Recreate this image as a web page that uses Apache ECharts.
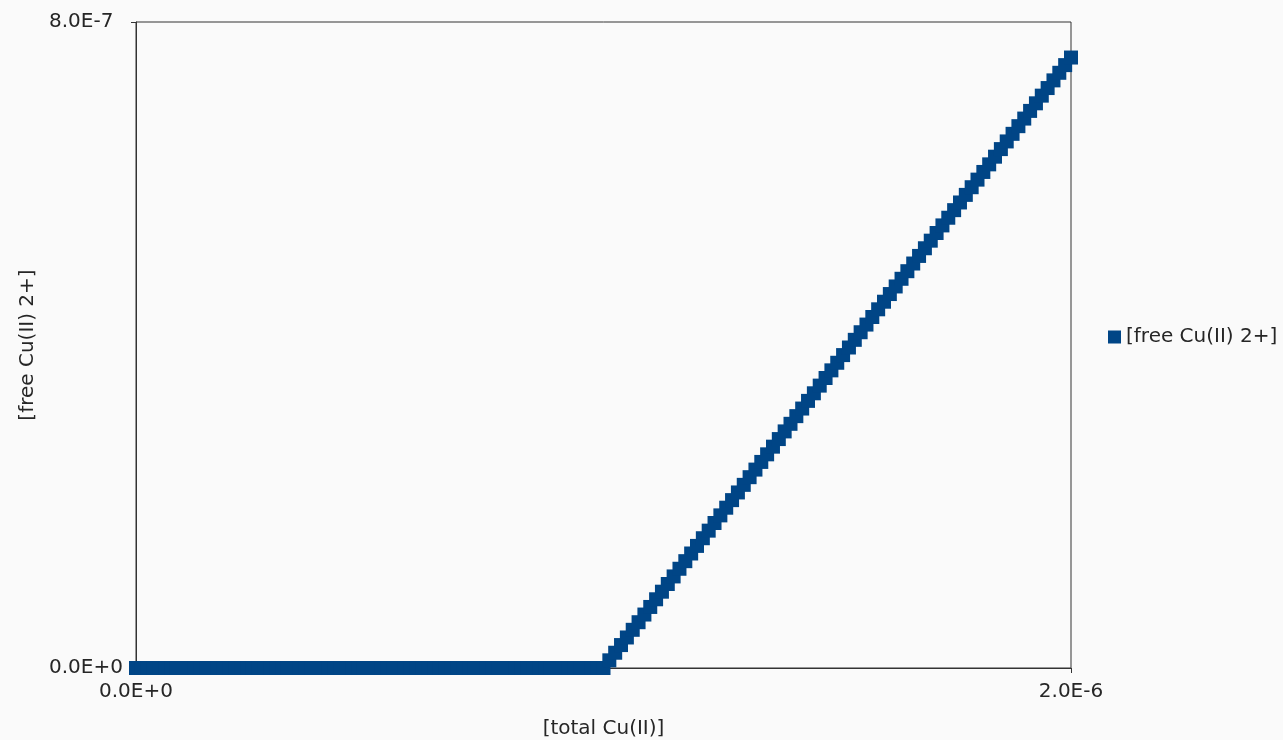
<!DOCTYPE html>
<html>
<head>
<meta charset="utf-8">
<title>[free Cu(II) 2+]</title>
<script src="https://cdn.jsdelivr.net/npm/echarts@6/dist/echarts.min.js"></script>
<style>
  html, body { margin: 0; padding: 0; background: #fafafa; }
  #chart { width: 1283px; height: 740px; }
</style>
</head>
<body>
<div id="chart"></div>
<script>
// [total Cu(II)] in units of 1e-8
const totalCuE8 = [
  0, 1.25, 2.5, 3.75, 5, 6.25, 7.5, 8.75, 10, 11.25, 12.5, 13.75, 15, 16.25, 17.5, 18.75,
  20, 21.25, 22.5, 23.75, 25, 26.25, 27.5, 28.75, 30, 31.25, 32.5, 33.75, 35, 36.25, 37.5, 38.75,
  40, 41.25, 42.5, 43.75, 45, 46.25, 47.5, 48.75, 50, 51.25, 52.5, 53.75, 55, 56.25, 57.5, 58.75,
  60, 61.25, 62.5, 63.75, 65, 66.25, 67.5, 68.75, 70, 71.25, 72.5, 73.75, 75, 76.25, 77.5, 78.75,
  80, 81.25, 82.5, 83.75, 85, 86.25, 87.5, 88.75, 90, 91.25, 92.5, 93.75, 95, 96.25, 97.5, 98.75,
  100, 101.25, 102.5, 103.75, 105, 106.25, 107.5, 108.75, 110, 111.25, 112.5, 113.75, 115, 116.25, 117.5, 118.75,
  120, 121.25, 122.5, 123.75, 125, 126.25, 127.5, 128.75, 130, 131.25, 132.5, 133.75, 135, 136.25, 137.5, 138.75,
  140, 141.25, 142.5, 143.75, 145, 146.25, 147.5, 148.75, 150, 151.25, 152.5, 153.75, 155, 156.25, 157.5, 158.75,
  160, 161.25, 162.5, 163.75, 165, 166.25, 167.5, 168.75, 170, 171.25, 172.5, 173.75, 175, 176.25, 177.5, 178.75,
  180, 181.25, 182.5, 183.75, 185, 186.25, 187.5, 188.75, 190, 191.25, 192.5, 193.75, 195, 196.25, 197.5, 198.75,
  200
];

// [free Cu(II) 2+] in units of 1e-7
const freeCuE7 = [
  0, 0, 0, 0, 0, 0, 0, 0, 0, 0, 0, 0, 0, 0, 0, 0,
  0, 0, 0, 0, 0, 0, 0, 0, 0, 0, 0, 0, 0, 0, 0, 0,
  0, 0, 0, 0, 0, 0, 0, 0, 0, 0, 0, 0, 0, 0, 0, 0,
  0, 0, 0, 0, 0, 0, 0, 0, 0, 0, 0, 0, 0, 0, 0, 0,
  0, 0, 0, 0, 0, 0, 0, 0, 0, 0, 0, 0, 0, 0, 0, 0,
  0, 0.095, 0.189, 0.284, 0.378, 0.473, 0.567, 0.662, 0.756, 0.851, 0.945, 1.040, 1.134, 1.229, 1.323, 1.418,
  1.512, 1.607, 1.701, 1.796, 1.890, 1.985, 2.079, 2.174, 2.268, 2.363, 2.457, 2.552, 2.646, 2.741, 2.835, 2.930,
  3.024, 3.119, 3.213, 3.308, 3.402, 3.497, 3.591, 3.686, 3.780, 3.875, 3.969, 4.064, 4.158, 4.253, 4.347, 4.442,
  4.536, 4.631, 4.725, 4.820, 4.914, 5.009, 5.103, 5.198, 5.292, 5.387, 5.481, 5.576, 5.670, 5.765, 5.859, 5.954,
  6.048, 6.143, 6.237, 6.332, 6.426, 6.521, 6.615, 6.710, 6.804, 6.899, 6.993, 7.088, 7.182, 7.277, 7.371, 7.466,
  7.560
];

const seriesName = '[free Cu(II) 2+]';
const xAxisName = '[total Cu(II)]';
const yAxisName = '[free Cu(II) 2+]';

const points = totalCuE8.map((x, i) => [x * 1e-8, freeCuE7[i] * 1e-7]);

const sci = (v) => v.toExponential(1).toUpperCase();

const textColor = '#262626';
const font = '"DejaVu Sans", sans-serif';
const fontSize = 20;

const chart = echarts.init(document.getElementById('chart'));

const option = {
  backgroundColor: '#fafafa',
  animation: false,
  grid: {
    left: 136,
    right: 212,
    top: 22,
    bottom: 72,
    containLabel: false,
    outerBoundsMode: 'none',
    show: true,
    borderColor: '#333',
    borderWidth: 1,
    backgroundColor: 'transparent'
  },
  legend: {
    data: [seriesName],
    orient: 'vertical',
    left: 1103,
    top: 322,
    icon: 'rect',
    itemWidth: 13,
    itemHeight: 13,
    itemGap: 6,
    textStyle: { color: textColor, fontSize: fontSize, fontFamily: font }
  },
  xAxis: {
    type: 'value',
    min: 0,
    max: 2e-6,
    interval: 2e-6,
    name: xAxisName,
    nameLocation: 'middle',
    nameGap: 51,
    nameTextStyle: { color: textColor, fontSize: fontSize, fontFamily: font },
    axisLine: { show: true, lineStyle: { color: '#333', width: 1 } },
    axisTick: { show: true, length: 5, lineStyle: { color: '#333' } },
    axisLabel: {
      color: textColor,
      fontSize: fontSize,
      fontFamily: font,
      margin: 14,
      formatter: sci
    },
    splitLine: { show: false }
  },
  yAxis: {
    type: 'value',
    min: 0,
    max: 8e-7,
    interval: 8e-7,
    name: yAxisName,
    nameLocation: 'middle',
    nameGap: 97,
    nameTextStyle: { color: textColor, fontSize: fontSize, fontFamily: font },
    axisLine: { show: true, lineStyle: { color: '#333', width: 1 } },
    axisTick: { show: true, length: 5, lineStyle: { color: '#333' } },
    axisLabel: {
      color: textColor,
      fontSize: fontSize,
      fontFamily: font,
      align: 'left',
      margin: 87,
      formatter: sci
    },
    splitLine: { show: false }
  },
  series: [
    {
      name: seriesName,
      type: 'scatter',
      data: points,
      symbol: 'rect',
      symbolSize: 14,
      itemStyle: { color: '#004586', opacity: 1 }
    }
  ]
};

chart.setOption(option);
</script>
</body>
</html>
